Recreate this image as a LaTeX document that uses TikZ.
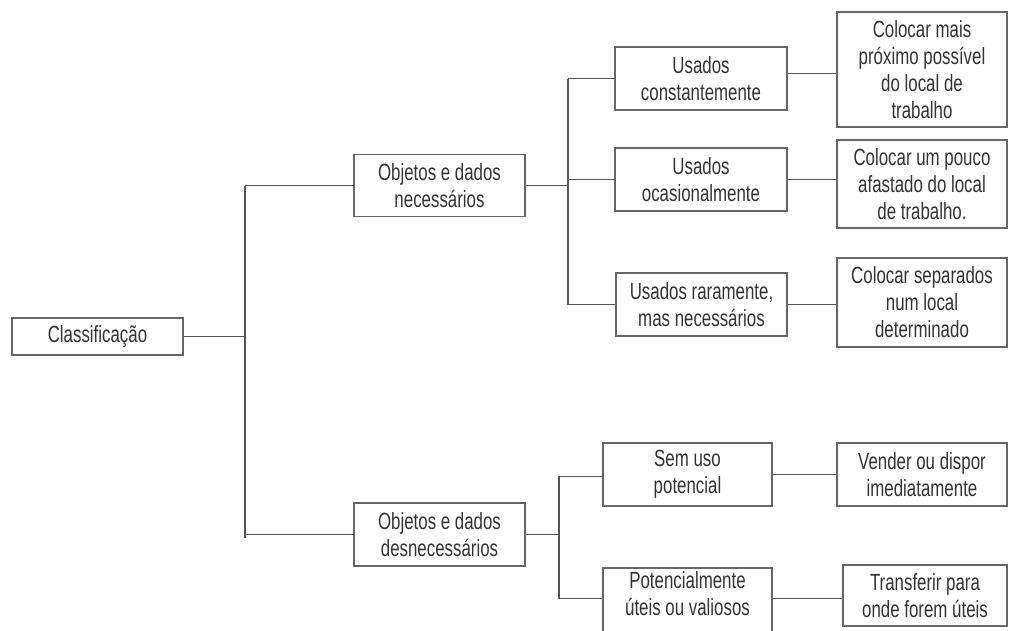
\documentclass[tikz,border=0pt]{standalone}
\usepackage{fontspec}
\setmainfont{Liberation Sans}[FakeStretch=0.72]
\usetikzlibrary{positioning}
\definecolor{BoxLine}{HTML}{666666}
\definecolor{TreeLine}{HTML}{555555}
\definecolor{BoxText}{HTML}{333333}
\tikzset{
  tree/.style={TreeLine,line width=1.1pt},
  item/.style={draw=BoxLine,line width=1.5pt,fill=white,text=BoxText,align=center,
               inner sep=1mm,font=\fontsize{20}{23}\selectfont},
  itemwide/.style={item,minimum width=5.13cm,minimum height=1.89cm},
  action/.style={item,minimum width=5.1cm},
}

\begin{document}
\begin{tikzpicture}[x=0.03cm,y=-0.03cm]
    \useasboundingbox[fill=white] (0,0) rectangle (1009,630);

    % root
    \node[item,minimum width=5.13cm,minimum height=1.11cm] (cls) at (97.5,336.5) {Classificação};

    % first level
    \node[itemwide,minimum height=1.86cm] (need) at (439.5,185.5) {Objetos e dados\\necessários};
    \node[itemwide] (noneed) at (439.5,534.5) {Objetos e dados\\desnecessários};

    % necessary objects
    \node[itemwide,minimum width=5.16cm] (const) at (701,78.5) {Usados\\constantemente};
    \node[itemwide,minimum width=5.16cm] (ocas) at (701,179.5) {Usados\\ocasionalmente};
    \node[itemwide] (rara) at (701.5,304.5) {Usados raramente,\\mas necessários};
    \node[action,minimum height=3.45cm] (perto) at (922,69.5)
      {Colocar mais\\próximo possível\\do local de\\trabalho};
    \node[action,minimum height=2.64cm] (afast) at (922,184)
      {Colocar um pouco\\afastado\ do local\\de trabalho.};
    \node[action,minimum height=2.67cm] (separ) at (922,302.5)
      {Colocar separados\\num local\\determinado};

    % unnecessary objects
    \node[itemwide,minimum width=5.07cm] (semuso) at (687.5,474.5) {Sem uso\\potencial};
    \node[itemwide,minimum width=5.07cm] (potenc) at (687.5,603.5) {Potencialmente\\úteis ou valiosos\\[-6pt]\ };
    \node[action,minimum height=1.89cm] (vender) at (922,474.5) {Vender ou dispor\\imediatamente};
    \node[action,minimum width=4.92cm,minimum height=1.83cm] (transf) at (925,595.5)
      {Transferir para\\onde forem úteis};

    % buses
    \coordinate (busA) at (245,0);
    \coordinate (busB) at (568,0);
    \coordinate (busC) at (559,0);
    \coordinate (tapS) at ([yshift=-0.05cm]semuso.west);
    \coordinate (tapP) at ([yshift=0.15cm]potenc.west);

    \draw[tree] (cls.east) -- (cls.east -| busA);
    \draw[tree] (need.west -| busA) -- ([yshift=-0.1cm]noneed.west -| busA);
    \draw[tree] (need.west -| busA) -- (need.west);
    \draw[tree] (noneed.west -| busA) -- (noneed.west);

    \draw[tree] (need.east) -- (need.east -| busB);
    \draw[tree] (const.west -| busB) -- (rara.west -| busB);
    \foreach \n in {const,ocas,rara}
      \draw[tree] (\n.west -| busB) -- (\n.west);

    \draw[tree] (noneed.east) -- (noneed.east -| busC);
    \draw[tree] (tapS -| busC) -- (tapP -| busC);
    \draw[tree] (tapS -| busC) -- (tapS);
    \draw[tree] (tapP -| busC) -- (tapP);

    % actions
    \draw[tree] ([yshift=0.15cm]const.east) -- ([yshift=0.15cm]const.east -| perto.west);
    \draw[tree] (ocas.east) -- (ocas.east -| afast.west);
    \draw[tree] (rara.east) -- (rara.east -| separ.west);
    \draw[tree] (semuso.east) -- (semuso.east -| vender.west);
    \draw[tree] ([yshift=0.15cm]potenc.east) -- ([yshift=0.15cm]potenc.east -| transf.west);
\end{tikzpicture}
\end{document}
